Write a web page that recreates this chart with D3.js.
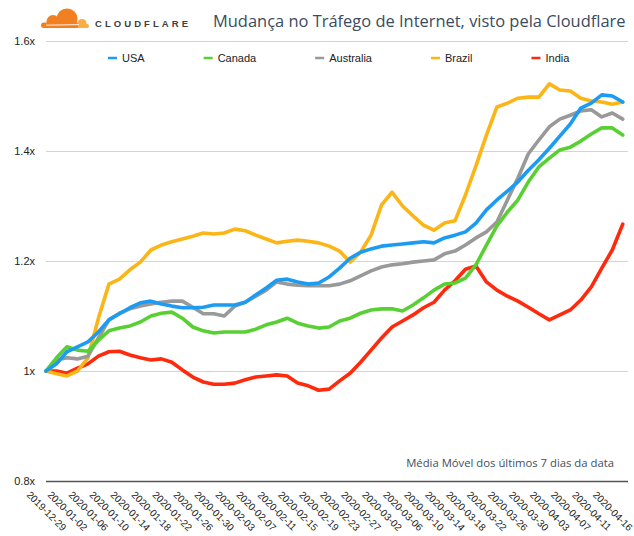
<!DOCTYPE html>
<html><head><meta charset="utf-8">
<script src="https://cdn.jsdelivr.net/npm/d3@7"></script>
<style>html,body{margin:0;padding:0;background:#fff;} svg{display:block}</style>
</head><body>
<svg id="chart" width="634" height="536"></svg>
<script>
const seriesNames = ["USA", "Canada", "Australia", "Brazil", "India"];
const seriesColors = ["#1b9cf2", "#58d033", "#999999", "#fbb516", "#ff2a0c"];
const stepDays = 2;      // data points every 2 days, from 2019-12-29
const tickStepDays = 4;  // axis label every 4 days
const axisEndDay = 111;  // last day shown on the axis
const usa = [1.000,1.013,1.035,1.044,1.053,1.071,1.093,1.104,1.115,1.124,1.127,1.122,1.118,1.115,1.115,1.116,1.120,1.120,1.120,1.125,1.138,1.151,1.165,1.167,1.162,1.158,1.160,1.171,1.187,1.205,1.216,1.222,1.227,1.229,1.231,1.233,1.235,1.233,1.242,1.247,1.253,1.269,1.293,1.311,1.327,1.344,1.365,1.384,1.405,1.427,1.449,1.478,1.487,1.502,1.500,1.489];
const canada = [1.000,1.024,1.044,1.038,1.036,1.056,1.073,1.078,1.082,1.089,1.100,1.105,1.107,1.096,1.080,1.073,1.069,1.071,1.071,1.071,1.076,1.084,1.089,1.096,1.087,1.082,1.078,1.080,1.091,1.096,1.105,1.111,1.113,1.113,1.109,1.120,1.133,1.147,1.158,1.160,1.169,1.193,1.229,1.264,1.289,1.311,1.344,1.371,1.387,1.402,1.407,1.418,1.431,1.442,1.442,1.429];
const australia = [1.000,1.020,1.024,1.022,1.027,1.060,1.093,1.105,1.113,1.118,1.122,1.125,1.127,1.127,1.116,1.104,1.104,1.100,1.118,1.125,1.136,1.147,1.162,1.158,1.156,1.155,1.155,1.155,1.158,1.164,1.173,1.182,1.189,1.193,1.195,1.198,1.200,1.202,1.213,1.218,1.229,1.242,1.253,1.271,1.311,1.351,1.395,1.420,1.444,1.458,1.465,1.473,1.475,1.462,1.469,1.458];
const brazil = [1.000,0.995,0.991,1.000,1.024,1.096,1.158,1.167,1.184,1.198,1.220,1.229,1.235,1.240,1.245,1.251,1.249,1.251,1.258,1.255,1.247,1.240,1.233,1.236,1.238,1.236,1.233,1.227,1.218,1.198,1.216,1.247,1.302,1.325,1.300,1.282,1.265,1.256,1.269,1.273,1.320,1.373,1.429,1.480,1.487,1.496,1.498,1.498,1.522,1.511,1.509,1.496,1.491,1.489,1.485,1.489];
const india = [1.000,1.000,0.996,1.005,1.013,1.027,1.035,1.036,1.029,1.024,1.020,1.022,1.016,1.002,0.989,0.980,0.976,0.976,0.978,0.984,0.989,0.991,0.993,0.991,0.978,0.973,0.965,0.967,0.982,0.996,1.016,1.038,1.060,1.080,1.091,1.102,1.115,1.125,1.147,1.164,1.185,1.191,1.162,1.147,1.136,1.127,1.116,1.104,1.093,1.102,1.111,1.129,1.153,1.187,1.220,1.267];
const tickLabels = ["2019-12-29","2020-01-02","2020-01-06","2020-01-10","2020-01-14","2020-01-18","2020-01-22","2020-01-26","2020-01-30","2020-02-03","2020-02-07","2020-02-11","2020-02-15","2020-02-19","2020-02-23","2020-02-27","2020-03-02","2020-03-06","2020-03-10","2020-03-14","2020-03-18","2020-03-22","2020-03-26","2020-03-30","2020-04-03","2020-04-07","2020-04-11","2020-04-16"];
const yTicks = [0.8, 1.0, 1.2, 1.4, 1.6];
const yTickLabels = ["0.8x", "1x", "1.2x", "1.4x", "1.6x"];
const titleText = "Mudança no Tráfego de Internet, visto pela Cloudflare";
const noteText = "Média Móvel dos últimos 7 dias da data";

const seriesValues = [usa, canada, australia, brazil, india];
const svg = d3.select("#chart");
const W = 634, H = 536;
const m = {left: 46, right: 6, top: 41, bottom: 55};
const x = d3.scaleLinear().domain([0, axisEndDay]).range([m.left, W - m.right]);
const y = d3.scaleLinear().domain([0.8, 1.6]).range([H - m.bottom, m.top]);
const plotW = W - m.right - m.left;

// y axis + gridlines
const yAxis = d3.axisLeft(y).tickValues(yTicks)
  .tickFormat((d, i) => yTickLabels[i]).tickSize(-plotW).tickPadding(11);
const ga = svg.append("g").attr("transform", `translate(${m.left},0)`).call(yAxis);
ga.select(".domain").remove();
ga.selectAll(".tick line").attr("stroke", d => d === 0.8 ? "#555" : "#d4d4d4")
  .attr("stroke-width", d => d === 0.8 ? 1.6 : 1);
ga.selectAll(".tick text").attr("font-family", "'Liberation Sans', Arial, sans-serif")
  .attr("font-size", 11).attr("fill", "#222");

// x axis labels
const xAxis = d3.axisBottom(x).tickValues(tickLabels.map((d, i) => i * tickStepDays))
  .tickFormat((d, i) => tickLabels[i]).tickSize(0);
const gx = svg.append("g").attr("transform", `translate(0,${H - m.bottom})`).call(xAxis);
gx.select(".domain").remove();
gx.selectAll(".tick text")
  .attr("font-family", "'Liberation Sans', Arial, sans-serif").attr("font-size", 10)
  .attr("fill", "#222").attr("text-anchor", "middle").attr("dy", null).attr("y", null)
  .attr("dominant-baseline", "central")
  .attr("transform", "translate(0,30) rotate(45)");

// lines
const line = d3.line().x((d, i) => x(i * stepDays)).y(d => y(d));
const order = [4, 3, 2, 1, 0];
svg.append("g").selectAll("path").data(order).join("path")
  .attr("d", i => line(seriesValues[i]))
  .attr("fill", "none").attr("stroke", i => seriesColors[i])
  .attr("stroke-width", 3.6).attr("stroke-linejoin", "round").attr("stroke-linecap", "round");

// legend
const lg = svg.append("g").attr("font-family", "'Liberation Sans', Arial, sans-serif").attr("font-size", 11);
let lx = 108;
seriesNames.forEach((name, i) => {
  lg.append("line").attr("x1", lx).attr("x2", lx + 9).attr("y1", 58).attr("y2", 58)
    .attr("stroke", seriesColors[i]).attr("stroke-width", 2.5);
  const t = lg.append("text").attr("x", lx + 14).attr("y", 62).attr("fill", "#222").text(name);
  lx += 14 + t.node().getComputedTextLength() + 59;
});

// title
const title = svg.append("text").attr("x", 213).attr("y", 27)
  .attr("font-family", "'Open Sans', sans-serif").attr("font-size", 17)
  .attr("fill", "#3a4b5e").text(titleText);
const tl = title.node().getComputedTextLength();
title.attr("font-size", 17 * 413 / tl);

// note
svg.append("text").attr("x", 614).attr("y", 467).attr("text-anchor", "end")
  .attr("font-family", "'Open Sans', sans-serif").attr("font-size", 11.3)
  .attr("fill", "#3d4f63").text(noteText);

// logo
const logo = svg.append("g");
const cp = svg.append("defs").append("clipPath").attr("id", "cl");
cp.append("rect").attr("x", 30).attr("y", 0).attr("width", 70).attr("height", 28);
const cg = logo.append("g").attr("clip-path", "url(#cl)");
cg.append("circle").attr("cx", 67).attr("cy", 19).attr("r", 10.5).attr("fill", "#f38020");
cg.append("circle").attr("cx", 53).attr("cy", 21.5).attr("r", 6.5).attr("fill", "#f38020");
cg.append("rect").attr("x", 41).attr("y", 22.5).attr("width", 39).attr("height", 5.5).attr("rx", 2.7).attr("fill", "#f38020");
cg.append("circle").attr("cx", 82).attr("cy", 23.5).attr("r", 4.5).attr("fill", "#faae40");
cg.append("rect").attr("x", 78).attr("y", 24).attr("width", 11).attr("height", 4).attr("rx", 2).attr("fill", "#faae40");
cg.append("line").attr("x1", 46).attr("x2", 79).attr("y1", 25.2).attr("y2", 24.6).attr("stroke", "#fff").attr("stroke-width", 0.9);
logo.append("text").attr("x", 95).attr("y", 27.3)
  .attr("font-family", "'Liberation Sans', Arial, sans-serif").attr("font-weight", "bold")
  .attr("font-size", 9.5).attr("fill", "#404041")
  .attr("textLength", 93).attr("lengthAdjust", "spacing").text("CLOUDFLARE");
</script>
</body></html>
